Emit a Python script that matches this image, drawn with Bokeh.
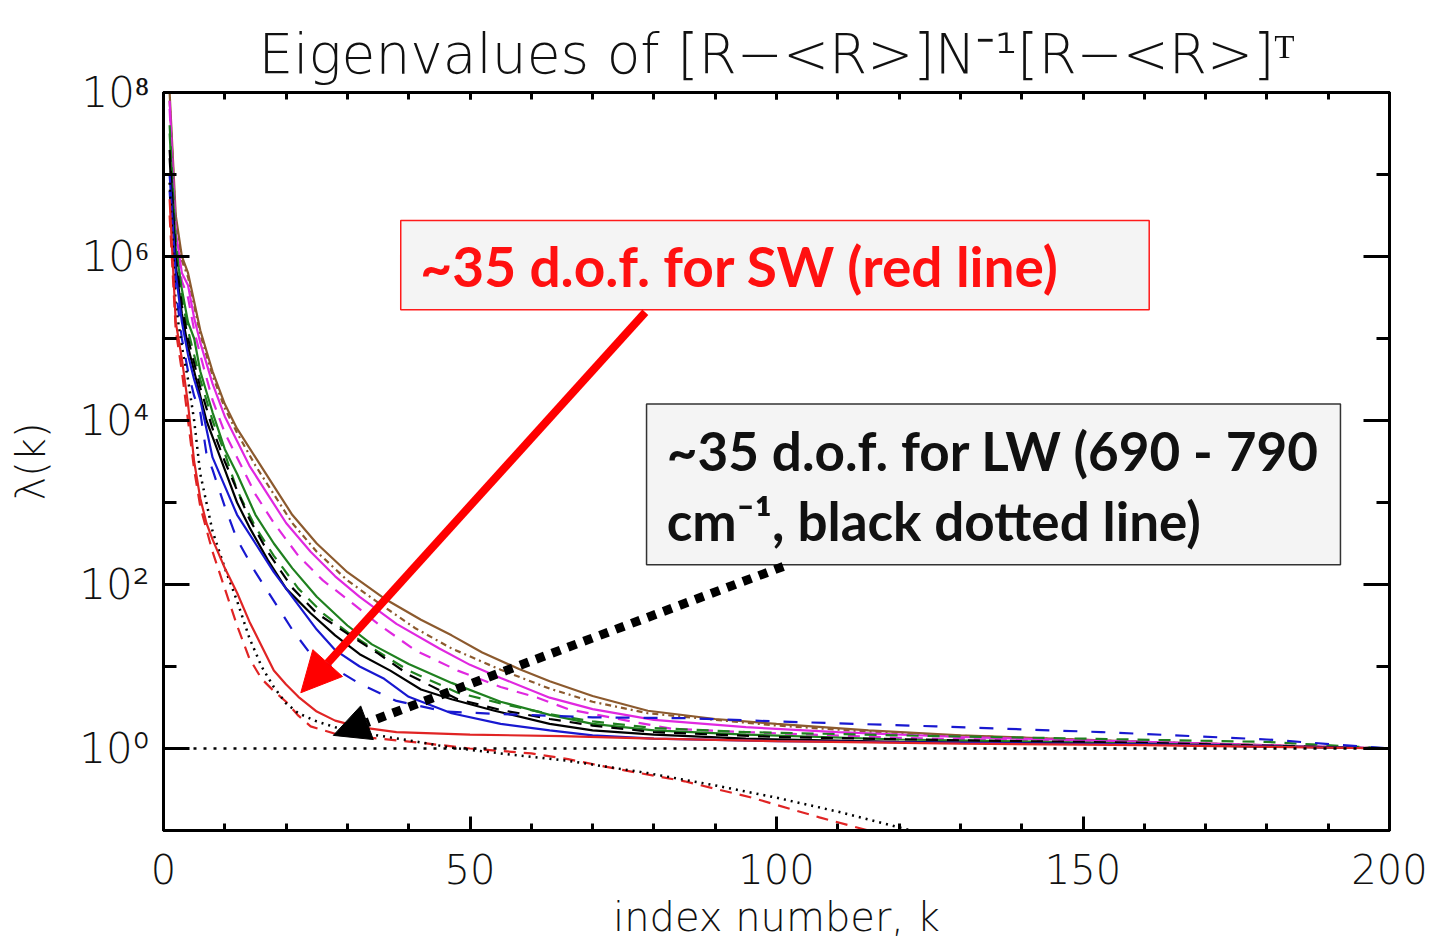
from bokeh.plotting import figure
from bokeh.models import (Range1d, LogAxis, LinearAxis, FixedTicker, BoxAnnotation,
                          Label, Arrow, NormalHead, Span)
from bokeh.embed import file_html
from bokeh.resources import INLINE

# ---------------- data (log10 of eigenvalue vs index k) ----------------
red_solid_k = [1, 2, 3, 4, 5, 6, 7, 8, 10, 12, 14, 16, 18, 20, 22, 25, 28, 32, 38, 50, 65, 80, 100, 130, 160, 200]
red_solid_log = [6.7, 5.2, 4.75, 4.2, 3.5, 3.05, 2.75, 2.55, 2.2, 1.9, 1.55, 1.25, 0.95, 0.78, 0.63, 0.45, 0.34, 0.26, 0.2, 0.17, 0.15, 0.12, 0.09, 0.06, 0.04, 0.0]

red_dashed_k = [1, 2, 3, 4, 5, 6, 8, 10, 12, 14, 16, 18, 20, 22, 24, 28, 34, 42, 50, 60, 66, 74, 85, 96, 107, 115]
red_dashed_log = [6.5, 5.1, 4.6, 4.0, 3.4, 2.95, 2.4, 1.95, 1.5, 1.1, 0.85, 0.7, 0.57, 0.4, 0.27, 0.18, 0.13, 0.07, 0.0, -0.06, -0.13, -0.25, -0.4, -0.6, -0.84, -1.0]

black_dotted_k = [1, 2, 3, 4, 5, 6, 8, 10, 12, 14, 16, 18, 20, 22, 25, 28, 34, 40, 47, 55, 66, 79, 90, 100, 110, 122]
black_dotted_log = [6.9, 5.4, 4.9, 4.5, 4.0, 3.35, 2.65, 2.2, 1.8, 1.35, 1.0, 0.75, 0.55, 0.43, 0.33, 0.26, 0.17, 0.1, 0.01, -0.06, -0.15, -0.3, -0.45, -0.6, -0.77, -1.0]

blue_solid_k = [1, 2, 3, 4, 5, 6, 8, 10, 12, 15, 18, 21, 25, 28, 32, 36, 40, 47, 55, 63, 70, 80, 100, 130, 160, 200]
blue_solid_log = [7.0, 5.8, 5.2, 4.8, 4.5, 4.25, 3.55, 3.2, 2.85, 2.5, 2.15, 1.85, 1.45, 1.2, 1.0, 0.85, 0.63, 0.43, 0.3, 0.22, 0.16, 0.12, 0.09, 0.07, 0.05, 0.0]

blue_dashed_k = [1, 2, 3, 4, 5, 6, 7, 8, 10, 12, 15, 18, 21, 24, 28, 32, 38, 46, 55, 70, 85, 100, 126, 153, 180, 200]
blue_dashed_log = [6.8, 5.6, 5.0, 4.6, 4.3, 4.1, 3.6, 3.4, 2.95, 2.55, 2.15, 1.8, 1.45, 1.15, 0.97, 0.79, 0.58, 0.45, 0.42, 0.38, 0.37, 0.33, 0.27, 0.2, 0.11, 0.0]

black_solid_k = [1, 2, 3, 4, 5, 6, 7, 8, 10, 12, 14, 17, 20, 24, 28, 32, 37, 42, 47, 54, 63, 70, 80, 95, 120, 160, 200]
black_solid_log = [7.2, 5.9, 5.3, 4.9, 4.6, 4.3, 4.0, 3.8, 3.4, 3.0, 2.7, 2.3, 1.95, 1.65, 1.38, 1.15, 0.95, 0.72, 0.6, 0.46, 0.3, 0.22, 0.17, 0.12, 0.08, 0.05, 0.0]

black_dashed_k = [1, 2, 3, 4, 5, 6, 8, 10, 12, 14, 17, 21, 25, 30, 35, 40, 48, 55, 63, 70, 80, 100, 130, 160, 200]
black_dashed_log = [7.3, 6.0, 5.4, 5.0, 4.7, 4.4, 3.9, 3.5, 3.15, 2.8, 2.4, 1.96, 1.65, 1.4, 1.16, 0.9, 0.6, 0.47, 0.36, 0.28, 0.2, 0.14, 0.1, 0.07, 0.0]

green_solid_k = [1, 2, 3, 4, 5, 6, 8, 10, 12, 15, 18, 21, 25, 30, 34, 40, 47, 55, 63, 70, 80, 95, 120, 160, 200]
green_solid_log = [7.5, 6.1, 5.6, 5.2, 5.0, 4.6, 4.1, 3.65, 3.35, 2.85, 2.5, 2.2, 1.85, 1.5, 1.27, 1.03, 0.8, 0.57, 0.41, 0.3, 0.22, 0.17, 0.11, 0.06, 0.0]

green_dashed_k = [1, 2, 3, 4, 5, 6, 8, 10, 12, 15, 18, 22, 26, 30, 35, 40, 48, 55, 63, 70, 80, 95, 120, 150, 180, 200]
green_dashed_log = [7.6, 6.2, 5.5, 5.1, 4.8, 4.5, 4.0, 3.6, 3.15, 2.7, 2.35, 1.95, 1.65, 1.42, 1.18, 0.95, 0.68, 0.55, 0.42, 0.33, 0.25, 0.2, 0.16, 0.12, 0.08, 0.0]

magenta_solid_k = [1, 2, 3, 4, 5, 6, 8, 10, 12, 14, 17, 20, 24, 28, 32, 38, 45, 50, 55, 63, 70, 80, 95, 110, 130, 160, 200]
magenta_solid_log = [7.9, 6.3, 5.8, 5.65, 5.25, 4.95, 4.45, 4.05, 3.75, 3.45, 3.1, 2.75, 2.4, 2.1, 1.85, 1.52, 1.22, 1.02, 0.86, 0.62, 0.48, 0.35, 0.26, 0.2, 0.14, 0.08, 0.0]

magenta_dashed_k = [1, 2, 3, 4, 5, 6, 8, 10, 12, 15, 18, 22, 26, 30, 35, 41, 48, 55, 61, 66, 77, 83, 95, 120, 160, 200]
magenta_dashed_log = [7.8, 6.2, 5.7, 5.5, 5.1, 4.8, 4.25, 3.85, 3.55, 3.1, 2.75, 2.35, 2.05, 1.82, 1.52, 1.2, 0.95, 0.75, 0.62, 0.48, 0.32, 0.24, 0.2, 0.13, 0.07, 0.0]

brown_solid_k = [1, 2, 3, 4, 5, 6, 8, 10, 12, 15, 18, 21, 25, 30, 36, 42, 47, 52, 58, 63, 70, 79, 90, 100, 115, 130, 160, 200]
brown_solid_log = [8.0, 6.5, 6.0, 5.8, 5.45, 5.1, 4.6, 4.2, 3.9, 3.55, 3.2, 2.85, 2.5, 2.15, 1.83, 1.57, 1.38, 1.17, 0.97, 0.82, 0.64, 0.46, 0.36, 0.3, 0.22, 0.16, 0.08, 0.0]

brown_dotted_k = [1, 2, 3, 4, 5, 6, 8, 10, 12, 15, 18, 21, 25, 30, 35, 41, 47, 55, 63, 70, 79, 90, 100, 120, 160, 200]
brown_dotted_log = [7.9, 6.4, 5.95, 5.75, 5.4, 5.05, 4.55, 4.15, 3.85, 3.45, 3.1, 2.75, 2.4, 2.05, 1.78, 1.47, 1.22, 0.96, 0.73, 0.57, 0.43, 0.35, 0.28, 0.18, 0.08, 0.0]

x_ticks = [0, 50, 100, 150, 200]
x_minor = list(range(0, 201, 10))
y_major = [1e0, 1e2, 1e4, 1e6, 1e8]
y_minor = [1e-1, 1e1, 1e3, 1e5, 1e7]
y_tick_labels = {1e0: "10⁰", 1e2: "10²", 1e4: "10⁴", 1e6: "10⁶", 1e8: "10⁸"}

title_text = "Eigenvalues of [R−<R>]N⁻¹[R−<R>]ᵀ"
sw_note = "~35 d.o.f. for SW (red line)"
lw_note_1 = "~35 d.o.f. for LW (690 - 790"
lw_note_2 = "cm⁻¹, black dotted line)"

RED = "#e02424"
BLUE = "#1818d0"
GREEN = "#1f801f"
MAGENTA = "#e028e0"
BROWN = "#8c5a2e"
BLACK = "#000000"

AX_FONT = "DejaVu Sans Light"
TITLE_FONT = "DejaVu Sans Light"
NOTE_FONT = "Lato"

p = figure(width=1437, height=942, x_range=Range1d(0, 200), y_range=Range1d(1e-1, 1e8),
           y_axis_type="log", output_backend="svg", toolbar_location=None,
           min_border_left=163, min_border_right=48, min_border_top=92, min_border_bottom=112)
p.background_fill_color = "white"
p.border_fill_color = "white"
p.xgrid.grid_line_color = None
p.ygrid.grid_line_color = None
p.outline_line_color = "black"
p.outline_line_width = 3

p.title.text = title_text
p.title.align = "center"
p.title.text_font = TITLE_FONT
p.title.text_font_size = "55px"
p.title.text_font_style = "normal"
p.title.text_color = "#111111"
p.title.standoff = 14

# bottom axis
xa = p.xaxis[0]
xa.ticker = FixedTicker(ticks=x_ticks, minor_ticks=x_minor)
xa.major_tick_in = 14
xa.major_tick_out = 0
xa.minor_tick_in = 7
xa.minor_tick_out = 0
xa.major_tick_line_width = 3
xa.minor_tick_line_width = 3
xa.axis_line_width = 3
xa.major_label_text_font = AX_FONT
xa.major_label_text_font_size = "40px"
xa.major_label_text_color = "#111111"
xa.major_label_standoff = 23
xa.axis_label = "index number, k"
xa.axis_label_text_font = AX_FONT
xa.axis_label_text_font_size = "40px"
xa.axis_label_text_font_style = "normal"
xa.axis_label_text_color = "#111111"
xa.axis_label_standoff = 7

# left axis
ya = p.yaxis[0]
ya.ticker = FixedTicker(ticks=y_major, minor_ticks=y_minor)
ya.major_label_overrides = y_tick_labels
ya.major_tick_in = 26
ya.major_tick_out = 0
ya.minor_tick_in = 13
ya.minor_tick_out = 0
ya.major_tick_line_width = 3
ya.minor_tick_line_width = 3
ya.axis_line_width = 3
ya.major_label_text_font = AX_FONT
ya.major_label_text_font_size = "42px"
ya.major_label_text_color = "#111111"
ya.major_label_standoff = 14
ya.axis_label = "λ(k)"
ya.axis_label_text_font = AX_FONT
ya.axis_label_text_font_size = "40px"
ya.axis_label_text_font_style = "normal"
ya.axis_label_text_color = "#111111"
ya.axis_label_standoff = 22

# top and right axes (ticks only, empty labels)
top = LinearAxis(ticker=FixedTicker(ticks=x_ticks, minor_ticks=x_minor),
                 major_tick_in=7, major_tick_out=0, minor_tick_in=7, minor_tick_out=0,
                 major_tick_line_width=3, minor_tick_line_width=3, axis_line_width=3,
                 major_label_overrides={t: "" for t in x_ticks},
                 major_label_text_font_size="6px", major_label_standoff=0)
p.add_layout(top, "above")
right = LogAxis(ticker=FixedTicker(ticks=y_major, minor_ticks=y_minor),
                major_tick_in=26, major_tick_out=0, minor_tick_in=13, minor_tick_out=0,
                major_tick_line_width=3, minor_tick_line_width=3, axis_line_width=3,
                major_label_overrides={t: "" for t in y_major},
                major_label_text_font_size="6px", major_label_standoff=0)
p.add_layout(right, "right")

# unity reference line
p.add_layout(Span(location=1, dimension="width", line_color="black", line_width=2.5,
                  line_dash="3 7"))


def series(k, lg, color, dash="solid", width=2.2):
    p.line(k, [10 ** v for v in lg], line_color=color, line_width=width, line_dash=dash)


series(brown_solid_k, brown_solid_log, BROWN)
series(brown_dotted_k, brown_dotted_log, BROWN, "6 4 2 4")
series(magenta_solid_k, magenta_solid_log, MAGENTA)
series(magenta_dashed_k, magenta_dashed_log, MAGENTA, "12 9")
series(green_solid_k, green_solid_log, GREEN)
series(green_dashed_k, green_dashed_log, GREEN, "12 9")
series(black_solid_k, black_solid_log, BLACK)
series(black_dashed_k, black_dashed_log, BLACK, "12 9")
series(blue_solid_k, blue_solid_log, BLUE)
series(blue_dashed_k, blue_dashed_log, BLUE, "14 14")
series(red_dashed_k, red_dashed_log, RED, "12 8")
series(black_dotted_k, black_dotted_log, BLACK, "2 5", 2.5)
series(red_solid_k, red_solid_log, RED)

# annotation boxes
p.add_layout(BoxAnnotation(left=38.7, right=160.8, bottom=10 ** 5.35, top=10 ** 6.44,
                           fill_color="#f4f4f4", fill_alpha=1.0, line_color="#ff1a1a",
                           line_width=1.5, line_alpha=1.0))
p.add_layout(BoxAnnotation(left=78.8, right=192.0, bottom=10 ** 2.24, top=10 ** 4.2,
                           fill_color="#f4f4f4", fill_alpha=1.0, line_color="#333333",
                           line_width=1.5, line_alpha=1.0))

p.add_layout(Label(x=41.9, y=10 ** 5.88, text=sw_note, text_color="#ff1010",
                   text_font=NOTE_FONT, text_font_style="bold", text_font_size="55px",
                   text_baseline="alphabetic"))
p.add_layout(Label(x=82.1, y=10 ** 3.63, text=lw_note_1, text_color="#111111",
                   text_font=NOTE_FONT, text_font_style="bold", text_font_size="53px",
                   text_baseline="alphabetic"))
p.add_layout(Label(x=82.1, y=10 ** 2.78, text=lw_note_2, text_color="#111111",
                   text_font=NOTE_FONT, text_font_style="bold", text_font_size="53px",
                   text_baseline="alphabetic"))

# arrows
p.add_layout(Arrow(x_start=78.6, y_start=10 ** 5.32, x_end=22.4, y_end=10 ** 0.68,
                   line_color="#ff0000", line_width=8,
                   end=NormalHead(size=40, fill_color="#ff0000", line_color="#ff0000")))
p.add_layout(Arrow(x_start=101.1, y_start=10 ** 2.22, x_end=27.7, y_end=10 ** 0.16,
                   line_color="black", line_width=9, line_dash="9 8",
                   end=NormalHead(size=36, fill_color="black", line_color="black")))

open("out.html", "w").write(file_html(p, INLINE))
